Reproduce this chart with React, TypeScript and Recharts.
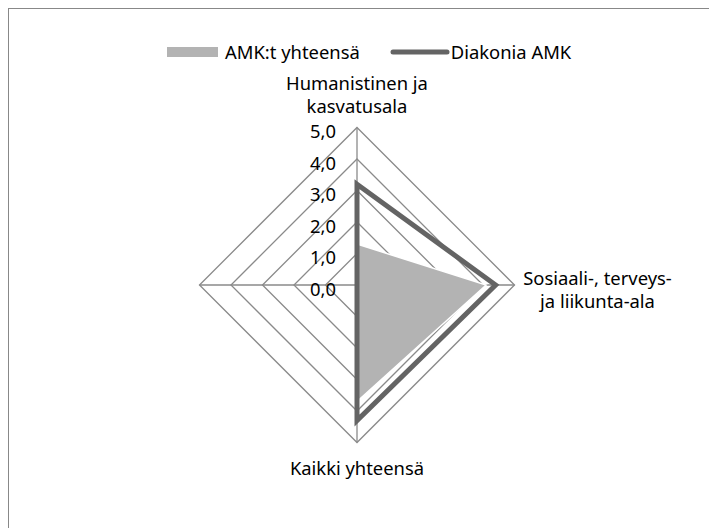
import React from 'react';
import { RadarChart, Radar, PolarGrid, PolarAngleAxis, PolarRadiusAxis, Legend } from 'recharts';

const categories = ['Humanistinen ja\nkasvatusala', 'Sosiaali-, terveys-\nja liikunta-ala', 'Kaikki yhteensä', ''];
const amkTotal = [1.3, 4.1, 3.7, 0];
const diakonia = [3.2, 4.4, 4.3, 0];
const radiusTicks = [0, 1, 2, 3, 4, 5];

const data = categories.map((c, i) => ({ category: c, amk: amkTotal[i], diak: diakonia[i] }));

const FONT = '"Noto Sans", "Open Sans", sans-serif';
const FS = 18.4;
const CX = 348;
const CY = 276;
const R = 157.5;

const fmt = (v: number) => v.toFixed(1).replace('.', ',');

function AngleTick(props: any) {
  const { x, y, payload } = props;
  if (!payload.value) return null;
  const lines = String(payload.value).split('\n');
  let tx = x;
  let ty = y;
  const dx = x - CX;
  const dy = y - CY;
  if (dy < -10) {
    // top label sits above the vertex
    ty = y - 37;
  } else if (dx > 10) {
    tx = x + 75;
    ty = y - 8;
  } else if (dy > 10) {
    ty = y + 17;
  }
  return (
    <text x={tx} y={ty} textAnchor="middle" fontFamily={FONT} fontSize={FS} fill="#000">
      {lines.map((l, i) => (
        <tspan key={i} x={tx} y={ty + i * 23} dominantBaseline="central">{l}</tspan>
      ))}
    </text>
  );
}

function RadiusTick(props: any) {
  const { x, y, payload } = props;
  return (
    <text x={x - 21} y={y + 3} textAnchor="end" dominantBaseline="central" fontFamily={FONT} fontSize={FS} fill="#000">
      {fmt(payload.value)}
    </text>
  );
}

function LegendContent(props: any) {
  const items = props.payload || [];
  return (
    <div style={{ display: 'flex', alignItems: 'center', fontFamily: FONT, fontSize: FS, color: '#000', whiteSpace: 'nowrap' }}>
      {items.map((it: any, i: number) => (
        <div key={i} style={{ display: 'flex', alignItems: 'center', marginRight: i === 0 ? 30 : 0 }}>
          {it.dataKey === 'amk' ? (
            <svg width={51} height={10} style={{ marginRight: 7 }}>
              <rect x={0} y={0} width={51} height={10} fill="#b3b3b3" />
            </svg>
          ) : (
            <svg width={60} height={10} style={{ marginRight: 1 }}>
              <line x1={3} y1={5} x2={57} y2={5} stroke="#646464" strokeWidth={5} strokeLinecap="round" />
            </svg>
          )}
          <span>{it.value}</span>
        </div>
      ))}
    </div>
  );
}

export default function App() {
  return (
    <div style={{ width: 710, height: 521, marginLeft: -1, marginTop: -1, borderTop: '2px solid #888', borderLeft: '2px solid #888', boxSizing: 'border-box', background: '#fff' }}>
      <RadarChart width={700} height={510} data={data} cx={CX} cy={CY} outerRadius={R} startAngle={90} endAngle={-270}>
        <PolarGrid gridType="polygon" stroke="#8a8a8a" strokeWidth={1.3} />
        <PolarAngleAxis dataKey="category" axisLine={false} tickLine={false} tick={<AngleTick />} />
        <PolarRadiusAxis angle={90} domain={[0, 5]} ticks={radiusTicks as any} tickCount={6} axisLine={false} tickLine={false} tick={<RadiusTick />} />
        <Radar name="AMK:t yhteensä" dataKey="amk" fill="#b3b3b3" fillOpacity={1} stroke="#ffffff" strokeWidth={1.5} isAnimationActive={false} />
        <Radar name="Diakonia AMK" dataKey="diak" fill="none" fillOpacity={0} stroke="#646464" strokeWidth={5} isAnimationActive={false} />
        <Legend verticalAlign="top" content={<LegendContent />} wrapperStyle={{ top: 30, left: 158, width: 'auto' }} />
      </RadarChart>
    </div>
  );
}
